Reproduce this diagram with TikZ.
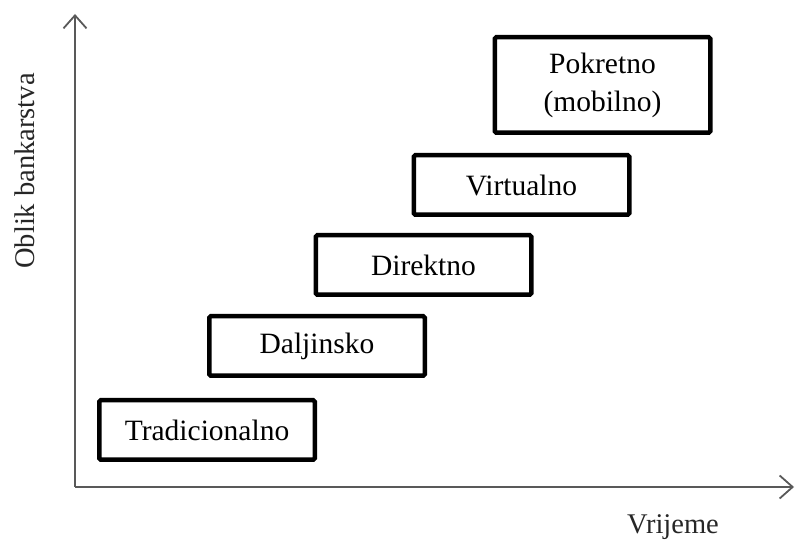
\documentclass[tikz,border=0pt]{standalone}
\usepackage{fontspec}
\setmainfont{Liberation Serif}
\usetikzlibrary{arrows.meta}
\begin{document}
\begin{tikzpicture}[x=1pt,y=1pt,
  stagebox/.style={draw=black, line width=4.5pt, rounded corners=1.5pt,
    minimum width=215.5pt, minimum height=59.5pt, inner sep=0pt,
    font=\fontsize{29.5}{38}\selectfont, text=black, align=center},
  axisline/.style={draw=black!65, line width=1.8pt,
    -{Straight Barb[length=13pt, width=23pt, line width=1.8pt]}},
  axislabel/.style={font=\fontsize{28.5}{34}\selectfont, text=black!85}]
\useasboundingbox (0,0) rectangle (795,540);
\coordinate (o) at (75,53);
\coordinate (ytip) at (75,526);
\coordinate (xtip) at (794,53);
\draw[axisline] (o) -- (ytip);
\draw[axisline] (o) -- (xtip);
\node[stagebox] (trad) at (207,110) {Tradicionalno};
\node[stagebox] (dalj) at (317,194) {Daljinsko};
\node[stagebox] (dir) at (423.5,275) {Direktno};
\node[stagebox] (virt) at (521.5,355) {Virtualno};
\node[stagebox, minimum height=95.5pt] (pok) at (602.5,455) {Pokretno\\(mobilno)};
\node[axislabel, anchor=base] (xl) at (673,6) {Vrijeme};
\node[axislabel, anchor=base, rotate=90] (yl) at (34,369) {Oblik bankarstva};
\end{tikzpicture}
\end{document}
